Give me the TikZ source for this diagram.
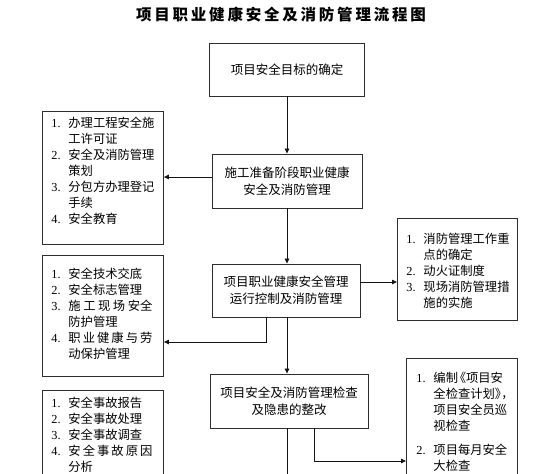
\documentclass[tikz,border=0pt]{standalone}
\usepackage{fontspec}
\setmainfont{Noto Sans CJK SC}
\newfontfamily\numfont{Liberation Serif}
\newfontfamily\titlefont[LetterSpace=18]{Noto Sans CJK SC}
\usetikzlibrary{arrows.meta}
\definecolor{boxline}{RGB}{45, 45, 45}
\definecolor{lineblk}{RGB}{20, 20, 20}

\newcommand{\itm}[1]{\makebox[17pt][l]{\numfont #1.}}
\newcommand{\ind}{\hspace*{17pt}}
\newcommand{\halfl}[1]{\makebox[6.5pt][l]{#1}}
\newcommand{\halfr}[1]{\makebox[8pt][r]{#1}}
\newcommand{\lstbody}[4]{\parbox[t][#1][t]{#2}{\vspace*{#3}#4}}

\begin{document}
\begin{tikzpicture}[x=1pt, y=-1pt,
    mainbox/.style={draw=boxline, line width=0.9pt, align=center, inner sep=0pt,
      font=\fontsize{12.5}{17}\selectfont},
    listbox/.style={draw=boxline, line width=0.9pt, anchor=north west, inner ysep=0pt,
      inner xsep=9pt, font=\fontsize{12.3}{16}\selectfont},
    arr/.style={-{Triangle[length=5pt, width=4.5pt]}, line width=0.8pt, lineblk},
    ln/.style={line width=0.8pt, lineblk}
  ]
  \useasboundingbox (0,0) rectangle (560,474);
  \clip (0,0) rectangle (560,474);

  \node[font=\titlefont\bfseries\fontsize{15.5}{18}\selectfont] (title) at (281,15) {项目职业健康安全及消防管理流程图};

  \node[mainbox, minimum width=155, minimum height=53] (box1) at (287,69.5) {项目安全目标的确定};
  \node[mainbox, minimum width=150, minimum height=54] (box2) at (287,181) {施工准备阶段职业健康\\安全及消防管理};
  \node[mainbox, minimum width=148, minimum height=53] (box3) at (286,290.5) {项目职业健康安全管理\\运行控制及消防管理};
  \node[mainbox, minimum width=158, minimum height=54] (box4) at (289,401) {项目安全及消防管理检查\\及隐患的整改};

  \node[listbox] (lst1) at (42,111) {\lstbody{133pt}{103pt}{6pt}{%
    \itm{1}办理工程安全施\\
    \ind 工许可证\\
    \itm{2}安全及消防管理\\
    \ind 策划\\
    \itm{3}分包方办理登记\\
    \ind 手续\\
    \itm{4}安全教育}};
  \node[listbox] (lst2) at (42,255) {\lstbody{121pt}{103pt}{13pt}{%
    \itm{1}安全技术交底\\
    \itm{2}安全标志管理\\
    \itm{3}\makebox[84pt][s]{施\hfill 工\hfill 现\hfill 场\hfill 安全}\\
    \ind 防护管理\\
    \itm{4}\makebox[84pt][s]{职\hfill 业\hfill 健\hfill 康\hfill 与\hfill 劳}\\
    \ind 动保护管理}};
  \node[listbox] (lst3) at (42,390) {\lstbody{110pt}{103pt}{7pt}{%
    \itm{1}安全事故报告\\
    \itm{2}安全事故处理\\
    \itm{3}安全事故调查\\
    \itm{4}\makebox[84pt][s]{安\hfill 全\hfill 事\hfill 故\hfill 原\hfill 因}\\
    \ind 分析}};

  \node[listbox] (rb1) at (397,218) {\lstbody{102pt}{102pt}{15pt}{%
    \itm{1}消防管理工作重\\
    \ind 点的确定\\
    \itm{2}动火证制度\\
    \itm{3}现场消防管理措\\
    \ind 施的实施}};
  \node[listbox, inner xsep=10pt] (rb2) at (406,358) {\lstbody{142pt}{91pt}{14pt}{%
    \itm{1}编制\halfr{《}项目安\\
    \ind 全检查计划\halfl{》}\halfl{，}\\
    \ind 项目安全员巡\\
    \ind 视检查\\[8pt]
    \itm{2}项目每月安全\\
    \ind 大检查}};

  \coordinate (c2) at (266,342);
  \coordinate (c4) at (314,461);
  \coordinate (c5) at (287,480);

  \draw[arr] (box1.south -| c5) -- (box2.north -| c5);
  \draw[arr] ([yshift=4pt]box2.west) -- ([yshift=4pt]box2.west -| lst1.east);
  \draw[arr] (box2.south -| c5) -- (box3.north -| c5);
  \draw[arr] ([yshift=8.5pt]box3.east) -- ([yshift=8.5pt]box3.east -| rb1.west);
  \draw[arr] (box3.south -| c2) |- (c2 -| lst2.east);
  \draw[arr] (box3.south -| c5) -- (box4.north -| c5);
  \draw[arr] (box4.south -| c4) |- (c4 -| rb2.west);
  \draw[ln] (box4.south -| c5) -- (c5);
\end{tikzpicture}
\end{document}
